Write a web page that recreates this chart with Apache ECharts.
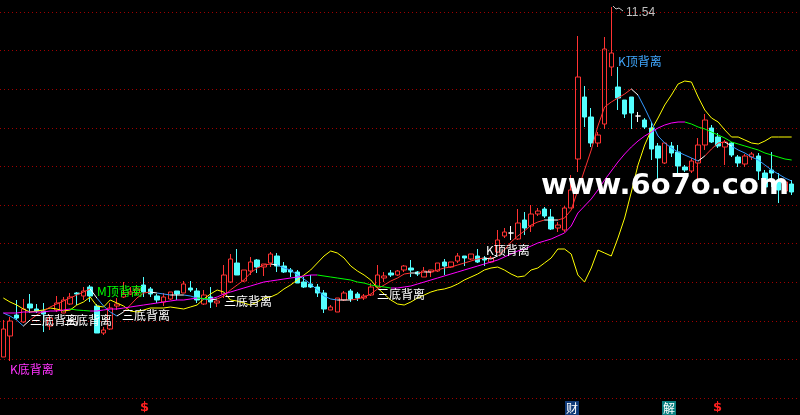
<!DOCTYPE html>
<html>
<head>
<meta charset="utf-8">
<script src="https://cdn.jsdelivr.net/npm/echarts@6/dist/echarts.min.js"></script>
<style>
html,body{margin:0;padding:0;background:#000;}
#chart{width:800px;height:415px;}
</style>
</head>
<body>
<div id="chart"></div>
<script>
// ---- data (prices) ----
const opens = [
4.54,4.96,5.38,5.24,5.60,5.50,5.46,5.16,5.48,5.42,
5.60,5.82,5.76,5.94,5.56,5.02,5.10,5.56,5.74,5.80,
5.82,5.98,5.90,5.76,5.64,5.70,5.86,5.82,5.92,5.86,
5.60,5.74,5.62,5.80,6.04,6.42,6.06,6.26,6.48,6.34,
6.42,6.56,6.36,6.28,6.24,6.04,6.00,5.94,5.82,5.48,
5.44,5.68,5.86,5.80,5.72,5.78,5.94,6.12,6.22,6.18,
6.28,6.32,6.24,6.14,6.24,6.26,6.44,6.34,6.46,6.56,
6.50,6.56,6.52,6.44,6.64,6.96,7.02,6.90,7.28,7.16,
7.40,7.50,7.34,7.12,7.08,7.52,8.50,9.74,9.34,8.82,
9.20,10.34,9.94,9.68,9.74,9.36,9.28,9.12,8.76,8.42,
8.76,8.64,8.34,8.26,8.42,8.78,9.12,8.94,8.74,8.82,
8.54,8.40,8.54,8.56,8.22,8.28,8.08,7.86,8.00];
const closes = [
5.10,5.26,5.32,5.50,5.52,5.46,5.40,5.32,5.62,5.68,
5.74,5.80,5.86,5.76,5.02,5.08,5.52,5.60,5.80,5.84,
5.90,5.84,5.80,5.68,5.74,5.84,5.80,6.00,5.88,5.68,
5.78,5.64,5.66,6.18,6.50,6.18,6.28,6.44,6.34,6.40,
6.60,6.36,6.24,6.24,6.02,5.94,5.94,5.82,5.50,5.54,
5.72,5.82,5.70,5.72,5.76,5.94,6.18,6.16,6.18,6.26,
6.36,6.28,6.20,6.26,6.28,6.42,6.36,6.44,6.56,6.52,
6.60,6.44,6.48,6.52,6.88,7.04,7.02,7.22,7.12,7.40,
7.46,7.36,7.10,7.18,7.52,7.88,10.14,9.34,8.82,8.98,
10.70,10.62,9.72,9.40,9.42,9.36,9.14,8.70,8.52,8.82,
8.62,8.36,8.28,8.46,8.78,9.28,8.84,8.76,8.84,8.58,
8.42,8.56,8.60,8.26,7.94,8.22,7.88,8.04,7.84];
const lows = [
4.54,4.46,5.28,5.22,5.42,5.42,5.04,5.08,5.44,5.42,
5.58,5.58,5.68,5.64,5.02,4.98,5.08,5.48,5.72,5.78,
5.78,5.74,5.74,5.62,5.56,5.68,5.68,5.82,5.84,5.62,
5.58,5.52,5.54,5.72,6.02,6.18,6.04,6.18,6.22,6.16,
6.34,6.24,6.22,6.14,6.02,5.92,5.92,5.74,5.42,5.48,
5.44,5.66,5.64,5.66,5.68,5.76,5.94,6.04,6.14,6.16,
6.24,6.14,6.16,6.14,6.14,6.24,6.18,6.32,6.42,6.36,
6.48,6.42,6.36,6.42,6.62,6.92,6.88,6.88,6.98,7.04,
7.36,7.32,7.08,7.04,7.04,7.52,8.24,9.14,8.74,8.74,
9.10,10.16,9.48,9.32,9.10,9.24,9.10,8.48,8.08,8.40,
8.54,8.22,8.24,8.22,8.08,8.68,8.82,8.72,8.38,8.54,
8.34,8.34,8.48,8.08,7.88,7.94,7.62,7.82,7.78];
const highs = [
5.28,5.34,5.68,5.70,5.80,5.60,5.62,5.38,5.76,5.74,
5.82,5.84,5.94,5.98,5.60,5.14,5.62,5.72,6.04,5.94,
5.98,6.14,5.94,5.80,5.82,5.84,5.86,6.06,6.06,5.92,
5.88,5.94,5.68,6.38,6.60,6.70,6.28,6.54,6.50,6.40,
6.64,6.62,6.44,6.32,6.28,6.14,6.18,6.00,5.88,5.58,
5.72,5.86,5.90,5.84,5.80,6.02,6.38,6.24,6.28,6.28,
6.38,6.48,6.26,6.34,6.28,6.42,6.50,6.44,6.62,6.56,
6.60,6.70,6.56,6.56,7.08,7.12,7.16,7.50,7.44,7.58,
7.52,7.54,7.50,7.24,7.56,8.18,10.96,9.96,9.52,9.04,
10.94,11.54,10.34,9.68,9.74,9.44,9.32,9.24,8.82,8.82,
8.84,8.78,8.38,8.52,8.92,9.40,9.18,9.02,8.88,8.84,
8.58,8.60,8.64,8.62,8.28,8.64,8.22,8.08,8.08];
const maShort = [
5.42,5.36,5.28,5.16,5.28,5.38,5.46,5.54,5.60,5.66,
5.72,5.78,5.84,5.90,5.72,5.56,5.44,5.36,5.44,5.58,
5.72,5.82,5.84,5.82,5.80,5.78,5.78,5.78,5.76,5.72,
5.70,5.68,5.70,5.76,5.88,5.98,6.08,6.22,6.32,6.38,
6.40,6.38,6.32,6.28,6.18,6.10,6.00,5.88,5.76,5.70,
5.68,5.68,5.68,5.70,5.74,5.80,5.90,5.98,6.06,6.12,
6.20,6.22,6.22,6.24,6.24,6.28,6.32,6.34,6.38,6.42,
6.46,6.50,6.52,6.50,6.56,6.68,6.84,6.96,7.06,7.18,
7.24,7.28,7.28,7.28,7.32,7.48,7.88,8.28,8.68,9.16,
9.54,9.64,9.72,9.80,9.90,9.78,9.52,9.24,8.96,8.82,
8.72,8.64,8.58,8.52,8.46,8.56,8.70,8.82,8.84,8.76,
8.68,8.62,8.54,8.48,8.38,8.28,8.20,8.12,8.06];
const maMid = [
5.42,5.42,5.42,5.44,5.44,5.44,5.44,5.46,5.46,5.48,
5.50,5.48,5.47,5.46,5.46,5.48,5.50,5.50,5.52,5.54,
5.56,5.58,5.60,5.62,5.64,5.66,5.68,5.68,5.70,5.72,
5.71,5.70,5.74,5.80,5.84,5.88,5.92,5.96,6.00,6.04,
6.06,6.08,6.10,6.12,6.14,6.16,6.18,6.18,6.16,6.14,
6.12,6.10,6.08,6.04,6.02,5.98,5.96,5.94,5.92,5.92,
5.94,5.96,6.00,6.04,6.08,6.12,6.16,6.20,6.24,6.28,
6.32,6.36,6.40,6.44,6.48,6.54,6.60,6.66,6.70,6.76,
6.82,6.86,6.90,6.96,7.02,7.16,7.42,7.56,7.70,7.88,
8.08,8.26,8.44,8.60,8.74,8.86,8.96,9.04,9.12,9.18,
9.22,9.24,9.24,9.20,9.14,9.10,9.04,8.98,8.92,8.84,
8.80,8.76,8.72,8.68,8.62,8.58,8.54,8.50,8.48];
const yellowLine = [
5.72,5.64,5.58,5.50,5.44,5.46,5.48,5.52,5.50,5.46,
5.48,5.58,5.64,5.74,5.56,5.54,5.68,5.62,5.56,5.46,
5.44,5.48,5.52,5.52,5.52,5.54,5.52,5.50,5.54,5.58,
5.70,5.80,5.88,5.84,5.68,5.66,5.62,5.58,5.64,5.72,
5.74,5.80,5.90,5.98,6.08,6.18,6.28,6.42,6.56,6.66,
6.62,6.52,6.36,6.26,6.18,6.08,5.92,5.80,5.68,5.60,
5.58,5.64,5.72,5.78,5.84,5.88,5.90,5.94,6.00,6.08,
6.14,6.20,6.28,6.32,6.34,6.28,6.20,6.14,6.16,6.28,
6.32,6.42,6.52,6.70,6.70,6.60,6.18,6.04,6.32,6.68,
6.62,6.56,6.92,7.32,7.84,8.38,8.78,9.08,9.32,9.58,
9.78,10.00,10.06,10.04,9.74,9.48,9.32,9.24,9.08,8.94,
8.94,8.88,8.82,8.80,8.86,8.94,8.94,8.94,8.94];
const categories = opens.map((_, i) => 'D' + (i + 1));
const highLabel = '11.54';

// ---- colours ----
const RED = '#ff3232', CYAN = '#54ffff', BLUE = '#3399ff', WHITE = '#ffffff';
const MAGENTA = '#ff00ff', GREEN = '#00ff00', YELLOW = '#ffff00';

function shortPieces(v) {
  const p = []; let prev = 0;
  for (let i = 0; i < v.length - 1; i++) {
    const d = Math.sign(v[i + 1] - v[i]);
    let c = d > 0 ? RED : (d < 0 ? BLUE : WHITE);
    if (prev !== 0 && d !== prev) c = WHITE;
    prev = d;
    p.push({ gte: i, lt: i + 1, color: c });
  }
  p.push({ gte: v.length - 1, lte: v.length - 1, color: p[p.length - 1].color });
  return p;
}
function midPieces(v) {
  const p = [];
  for (let i = 0; i < v.length - 1; i++) {
    p.push({ gte: i, lt: i + 1, color: v[i + 1] >= v[i] ? MAGENTA : GREEN });
  }
  p.push({ gte: v.length - 1, lte: v.length - 1, color: p[p.length - 1].color });
  return p;
}

const candleData = opens.map((o, i) => {
  const item = { value: [o, closes[i], lows[i], highs[i]] };
  if (o === closes[i]) item.itemStyle = { color: WHITE, color0: WHITE, borderColor: WHITE, borderColor0: WHITE };
  return item;
});

const chart = echarts.init(document.getElementById('chart'), null, { renderer: 'canvas' });
const cjk = '"Noto Sans CJK SC", sans-serif';
function label(text, left, top, color) {
  return { type: 'text', left: left, top: top, z: 100,
    style: { text: text, fill: color, font: '12px ' + cjk } };
}
chart.setOption({
  backgroundColor: '#000',
  animation: false,
  grid: [
    { left: 0, right: 5, top: 0, bottom: 0 },
    { left: 0, right: 0, top: 12, bottom: 17 }
  ],
  xAxis: [
    { type: 'category', data: categories, boundaryGap: true, show: false, gridIndex: 0 },
    { type: 'value', min: 0, max: 1, show: false, gridIndex: 1 }
  ],
  yAxis: [
    { type: 'value', min: 3.38, max: 11.68, show: false, splitLine: { show: false }, gridIndex: 0 },
    { type: 'value', min: 0, max: 10, interval: 1, gridIndex: 1,
      axisLine: { show: false }, axisTick: { show: false }, axisLabel: { show: false },
      splitLine: { show: true, lineStyle: { color: '#a00000', width: 1, type: [1, 3] } } }
  ],
  visualMap: [
    { type: 'piecewise', show: false, dimension: 0, seriesIndex: 1, pieces: shortPieces(maShort) },
    { type: 'piecewise', show: false, dimension: 0, seriesIndex: 2, pieces: midPieces(maMid) }
  ],
  series: [
    { type: 'candlestick', data: candleData, barWidth: 5, z: 2,
      itemStyle: { color: 'transparent', color0: CYAN, borderColor: RED, borderColor0: CYAN, borderWidth: 1 } },
    { type: 'line', data: maShort, showSymbol: false, z: 4, lineStyle: { width: 1 } },
    { type: 'line', data: maMid, showSymbol: false, z: 4, lineStyle: { width: 1 } },
    { type: 'line', data: yellowLine, showSymbol: false, z: 3, lineStyle: { width: 1, color: YELLOW }, itemStyle: { color: YELLOW } },
    { type: 'line', data: [], xAxisIndex: 1, yAxisIndex: 1 }
  ],
  graphic: [
    label('K底背离', 10, 363, '#ff33ff'),
    label('三底背离', 30, 314, WHITE),
    label('三底背离', 64, 314, WHITE),
    label('M顶背离', 97, 285, GREEN),
    label('三底背离', 122, 309, WHITE),
    label('三底背离', 224, 295, WHITE),
    label('三底背离', 377, 288, WHITE),
    label('K顶背离', 486, 244, WHITE),
    label('K顶背离', 618, 55, '#40a8ff'),
    { type: 'polyline', z: 100, shape: { points: [[613, 6], [616, 9], [619, 8], [623, 11]] },
      style: { stroke: '#c0c0c0', lineWidth: 1, fill: null } },
    { type: 'text', left: 626, top: 7, z: 100,
      style: { text: highLabel, fill: '#c0c0c0', font: '12px "Liberation Sans", Arial, sans-serif' } },
    { type: 'text', left: 541, top: 172, z: 120,
      style: { text: 'www.6o7o.com', fill: '#ffffff', font: 'bold 29px "DejaVu Sans", sans-serif' } },
    { type: 'text', left: 140, top: 401, z: 100,
      style: { text: '$', fill: '#ff2020', font: 'bold 13px "DejaVu Sans", sans-serif' } },
    { type: 'text', left: 713, top: 401, z: 100,
      style: { text: '$', fill: '#ff2020', font: 'bold 13px "DejaVu Sans", sans-serif' } },
    { type: 'text', left: 565, top: 401, z: 100,
      style: { text: '财', fill: '#ffffff', font: '12px ' + cjk, backgroundColor: '#103a78', padding: [1, 1, 1, 1] } },
    { type: 'text', left: 662, top: 401, z: 100,
      style: { text: '解', fill: '#ffffff', font: '12px ' + cjk, backgroundColor: '#0a8080', padding: [1, 1, 1, 1] } }
  ]
});
</script>
</body>
</html>
